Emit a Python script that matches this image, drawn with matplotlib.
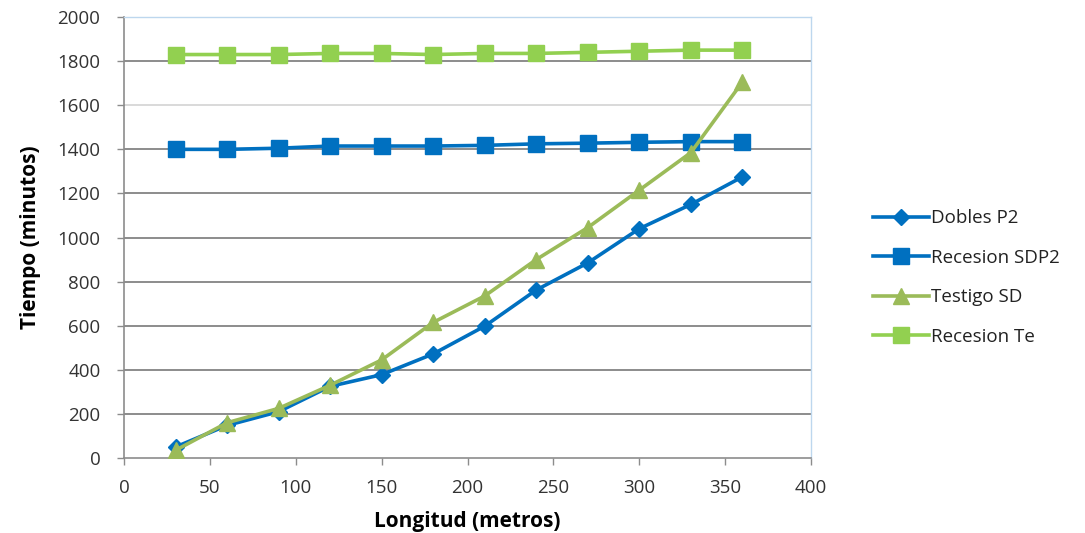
import matplotlib
matplotlib.use("Agg")
from matplotlib import pyplot as plt

# longitud del tramo (m)
longitud = [30, 60, 90, 120, 150, 180, 210, 240, 270, 300, 330, 360]

# tiempos de avance / recesion (min)
dobles_p2 = [50, 148, 210, 325, 378, 472, 598, 762, 885, 1040, 1150, 1275]
recesion_sdp2 = [1400, 1400, 1405, 1415, 1415, 1415, 1418, 1425, 1428, 1432, 1435, 1435]
testigo_sd = [35, 160, 225, 330, 445, 615, 735, 900, 1045, 1215, 1385, 1705]
recesion_te = [1830, 1830, 1830, 1835, 1835, 1830, 1835, 1835, 1840, 1845, 1850, 1850]

x_ticks = list(range(0, 401, 50))
y_ticks = list(range(0, 2001, 200))

azul = "#0070C0"
verde = "#9BBB59"
verde_claro = "#92D050"

plt.rcParams['font.family'] = ['Open Sans', 'DejaVu Sans']

fig = plt.figure(figsize=(10.85, 5.33), dpi=100)
ax = fig.add_axes([0.1143, 0.1407, 0.6332, 0.8273])

ax.plot(longitud, dobles_p2, color=azul, lw=2.6, marker='D', ms=8,
        mec=azul, label="Dobles P2", zorder=5)
ax.plot(longitud, recesion_sdp2, color=azul, lw=2.6, marker='s', ms=11,
        mec=azul, label="Recesion SDP2", zorder=4)
ax.plot(longitud, testigo_sd, color=verde, lw=2.6, marker='^', ms=11,
        mec=verde, label="Testigo SD", zorder=6)
ax.plot(longitud, recesion_te, color=verde_claro, lw=2.6, marker='s', ms=11,
        mec=verde_claro, label="Recesion Te", zorder=4)

ax.set_xlim(0, 400)
ax.set_ylim(0, 2000)
ax.set_xticks(x_ticks)
ax.set_yticks(y_ticks)

# lineas de division horizontales
for v in y_ticks[1:-1]:
    c = "#D9D9D9" if v == 1600 else "#8C8C8C"
    ax.axhline(v, color=c, lw=1.4, zorder=1)

for side in ("left", "bottom"):
    ax.spines[side].set_color("#8C8C8C")
    ax.spines[side].set_linewidth(1.2)
for side in ("top", "right"):
    ax.spines[side].set_color("#BDD7EE")
    ax.spines[side].set_linewidth(1.0)

ax.tick_params(axis='both', which='major', direction='out', length=5,
               width=1.0, color="#8C8C8C", labelsize=13.5, labelcolor="#333333")
ax.tick_params(axis='x', pad=10)
ax.tick_params(axis='y', pad=12)

ax.set_xlabel("Longitud (metros)", fontsize=15, fontweight='bold', labelpad=10)
ax.set_ylabel("Tiempo (minutos)", fontsize=15, fontweight='bold', labelpad=12)

leg = ax.legend(loc='center left', bbox_to_anchor=(1.065, 0.409), frameon=False,
                fontsize=13.5, handlelength=3.0, labelspacing=1.15,
                handletextpad=0.1)
for t in leg.get_texts():
    t.set_color("#222222")

fig.savefig("out.png", dpi=100)
